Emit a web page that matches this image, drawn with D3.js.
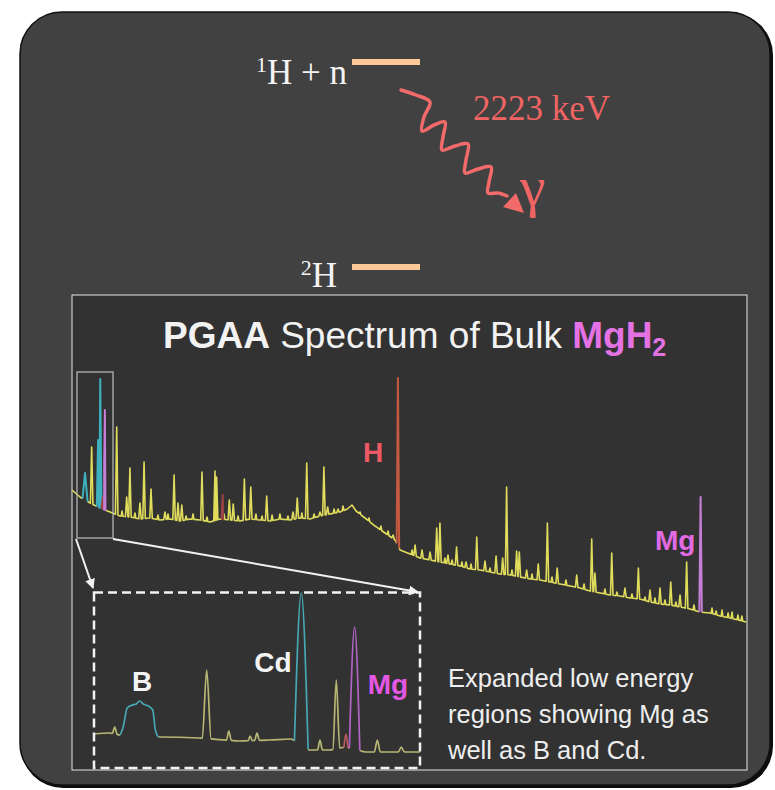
<!DOCTYPE html>
<html>
<head>
<meta charset="utf-8">
<script src="https://cdn.jsdelivr.net/npm/d3@7"></script>
<style>
  body { margin: 0; background: #fff; }
  svg { display: block; }
</style>
</head>
<body>
<div id="chart"></div>
<script>
// ---- bulk spectrum: baseline (energy keV / relative intensity)
var baseE = [400,445,501,557,613,668,724,780,836,892,948,1004,1060,1116,1172,1228,1284,1340,1396,1452,1508,1563,1619,1675,1731,1787,1843,1899,1940,1966,1989,2039,2095,2151,2207,2235,2291,2347,2402,2458,2514,2570,2626,2682,2738,2794,2850,2906,2962,3018,3074,3130,3186,3242,3298,3353,3409,3465,3521,3577,3633,3689,3745,3801,3857,3913,3969,4025,4080,4125,4170];
var baseV = [140,133,127,122,118,114,113,111,112,110,111,109,111,110,108,111,110,109,111,110,109,111,110,112,111,114,116,118,121,125,119,112,104,97,90,80,76,72,70,68,66,64,61,60,58,56,55,53,51,50,48,46,44,42,39,37,35,34,32,31,28,26,25,23,21,18,17,14,12,10,8];

// small wiggles on the baseline
var rippleE = [680,752,881,937,1038,1077,1155,1250,1329,1429,1463,1519,1563,1608,1686,1754,1866,1916,2011,2061,2128,2168,2302,2486,2526,2581,2632,2738,2861,2973,3085,3163,3264,3381,3448,3532,3605,3661,3717,3778,3879,3980,4003,4036,4070,4092,4125,4147];
var rippleV = [119,117,115,116,114,116,113,116,114,116,114,115,116,114,117,116,121,124,118,112,104,99,80,72,70,68,66,62,60,56,53,50,46,41,38,36,33,32,30,28,25,22,19,20,17,18,15,14];

// peaks: energy, top intensity, element colour code
var peakE  = [473,510,546,558,573,580,584,650,706,724,780,803,842,920,971,993,1014,1127,1200,1209,1243,1280,1302,1364,1400,1489,1636,1660,1713,1787,1809,1830,1888,2104,2196,2223,2263,2319,2358,2403,2440,2458,2503,2551,2604,2664,2710,2772,2809,2831,2887,2902,2943,3008,3059,3114,3223,3307,3325,3419,3493,3568,3633,3689,3749,3801,3838,3916];
var peakV  = [157,183,190,251,133,165,220,203,133,162,127,168,141,118,155,127,125,158,159,153,135,130,126,151,143,134,118,132,167,118,163,123,121,103,95,252,78,85,80,78,102,107,75,83,68,93,69,74,72,143,79,78,60,66,107,62,55,91,57,77,42,62,40,42,48,35,68,133];
var peakEl = ["B","Y","Cd","Cd","R","Mg","Mg","Y","Y","Y","Y","Y","Y","Y","Y","Y","Y","Y","Y","Y","R","Y","Y","Y","Y","Y","Y","Y","Y","Y","Y","Y","Y","Y","Y","H","Y","Y","Y","Y","Y","Y","Y","Y","Y","Y","Y","Y","Y","Y","Y","Y","Y","Y","Y","Y","Y","Y","Y","Y","Y","Y","Y","Y","Y","Y","Y","Mg"];

// ---- expanded low-energy region
var inBaseE = [455,463,468,488,507,527,542,553,562,572,580,590,602,617];
var inBaseV = [26,27,25,23,22,19,20,21,10,10,13,8,8,8];
var boronE = [468,469.5,471.5,474,476,477.6,479.5,482,484.2,485.5,487];
var boronV = [25,33,52,55,56,59,56,54,50,30,23];
var inPeakE  = [465.3,511,522,532.6,536,558,567.3,575.4,580.2,584.5,595.8,607.7];
var inPeakV  = [33,90,29,24,27,167,20,80,26,133,20,13];
var inPeakW  = [1.2,2.2,1.2,1,1.2,3.4,1.2,1.7,1,2.6,1.5,1.5];
var inPeakEl = ["Y","Y","Y","Y","Y","Cd","Y","Y","R","Mg","Y","Y"];

var mainColor = {Y:"#e0dc5c", B:"#3fb0bd", Cd:"#3fb0bd", Mg:"#c67fd6", R:"#9c4242", H:"#c65a40"};
var insetColor = {Y:"#b8b674", B:"#46a7b1", Cd:"#46a7b1", Mg:"#b264c6", R:"#c05a5a"};

var svg = d3.select("#chart").append("svg").attr("width", 775).attr("height", 790);

// slide background
svg.append("rect").attr("x", 21).attr("y", 13).attr("width", 752).attr("height", 775).attr("rx", 42)
  .attr("fill", "#0d0d0d");
svg.append("rect").attr("x", 20).attr("y", 12).attr("width", 750).attr("height", 773).attr("rx", 42)
  .attr("fill", "#414141").attr("stroke", "#111").attr("stroke-width", 1.5);

var serif = "'Liberation Serif', 'Times New Roman', serif";
var sans = "'Liberation Sans', Arial, Helvetica, sans-serif";

// ---- energy level scheme
var levels = [{sup: "1", rest: "H + n", y: 62, base: 84}, {sup: "2", rest: "H", y: 267, base: 287}];
levels.forEach(function (d) {
  svg.append("rect").attr("x", 352).attr("y", d.y - 3).attr("width", 68).attr("height", 6).attr("fill", "#fcc898");
  var t = svg.append("text").attr("x", d.sup == "1" ? 347 : 337).attr("y", d.base)
    .attr("text-anchor", "end").attr("font-family", serif).attr("font-size", 35).attr("fill", "#f4f4f4");
  t.append("tspan").attr("font-size", 22).attr("dy", -12).text(d.sup);
  t.append("tspan").attr("dy", 12).text(d.rest);
});

svg.append("text").attr("x", 473).attr("y", 120).attr("font-family", serif).attr("font-size", 35)
  .attr("fill", "#f06464").text("2223 keV");
svg.append("text").attr("x", 520).attr("y", 206).attr("font-family", serif).attr("font-size", 58)
  .attr("fill", "#f06464").text("γ");

// wavy photon
var wave = [[401,90],[416,95],[430,102],[424,117],[422,131],[434,125],[445,122],[443,137],[442,150],[455,146],[468,144],[466,160],[465,173],[478,169],[491,167],[489,182],[488,193],[498,193],[507,196]];
svg.append("path").attr("d", d3.line().curve(d3.curveCatmullRom.alpha(0.5))(wave))
  .attr("fill", "none").attr("stroke", "#f26a6a").attr("stroke-width", 3.5).attr("stroke-linecap", "round");
svg.append("path").attr("d", "M524,213 L503,207 L516,193 Z").attr("fill", "#f26a6a");

// ---- spectrum panel
svg.append("rect").attr("x", 72).attr("y", 295).attr("width", 675).attr("height", 475)
  .attr("fill", "#323232").attr("stroke", "#e6e6e6").attr("stroke-width", 1);

var title = svg.append("text").attr("x", 163).attr("y", 348).attr("font-family", sans).attr("font-size", 37).attr("fill", "#f2f2f2");
title.append("tspan").attr("font-weight", "bold").text("PGAA");
title.append("tspan").text(" Spectrum of Bulk ");
title.append("tspan").attr("font-weight", "bold").attr("fill", "#e472e4").text("MgH");
title.append("tspan").attr("font-weight", "bold").attr("fill", "#e472e4").attr("font-size", 25).attr("dy", 8).text("2");

// split a spectrum into coloured runs
function buildRuns(bE, bV, peaks) {
  var base = d3.scaleLinear().domain(bE).range(bV);
  var verts = [];
  bE.forEach(function (e, i) {
    var inside = peaks.some(function (p) { return e > p.lo && e < p.hi; });
    if (!inside) verts.push([e, bV[i]]);
  });
  peaks.forEach(function (p) {
    if (p.pts) p.pts.forEach(function (q) { verts.push(q); });
    else verts.push([p.lo, base(p.lo)], [p.e, p.v], [p.hi, base(p.hi)]);
  });
  verts.sort(function (a, b) { return a[0] - b[0]; });
  var runs = [], cur = null;
  for (var i = 0; i < verts.length - 1; i++) {
    var m = (verts[i][0] + verts[i + 1][0]) / 2;
    var hit = peaks.filter(function (p) { return p.c != "Y" && m > p.lo && m < p.hi; });
    hit.sort(function (a, b) { return b.v - a.v; });
    var c = hit.length ? hit[0].c : "Y";
    if (!cur || cur.c != c) { cur = {c: c, pts: [verts[i]]}; runs.push(cur); }
    cur.pts.push(verts[i + 1]);
  }
  // yellow first so coloured lines sit on top
  runs.sort(function (a, b) { return (a.c == "Y" ? 0 : 1) - (b.c == "Y" ? 0 : 1); });
  return runs;
}

// main spectrum
var x = d3.scaleLinear().domain([400, 4170]).range([72, 746]);
var y = d3.scaleLinear().domain([0, 260]).range([630, 370]);

var mainPeaks = peakE.map(function (e, i) {
  var w = peakEl[i] == "B" ? 14 : 7;
  return {e: e, v: peakV[i], c: peakEl[i], lo: e - w, hi: e + w};
});
rippleE.forEach(function (e, i) {
  mainPeaks.push({e: e, v: rippleV[i], c: "Y", lo: e - 5, hi: e + 5});
});
var mainLine = d3.line().x(function (d) { return x(d[0]); }).y(function (d) { return y(d[1]); });
svg.append("g").selectAll("path").data(buildRuns(baseE, baseV, mainPeaks)).join("path")
  .attr("d", function (d) { return mainLine(d.pts); })
  .attr("fill", "none").attr("stroke", function (d) { return mainColor[d.c]; })
  .attr("stroke-width", function (d) { return d.c == "Y" ? 1.6 : 2; })
  .attr("stroke-linejoin", "round");

svg.append("text").attr("x", 373).attr("y", 462).attr("text-anchor", "middle").attr("font-family", sans)
  .attr("font-weight", "bold").attr("font-size", 28).attr("fill", "#ee5a64").text("H");
svg.append("text").attr("x", 655).attr("y", 550).attr("font-family", sans)
  .attr("font-weight", "bold").attr("font-size", 28).attr("fill", "#e36ae3").text("Mg");

// zoom box and connectors
svg.append("rect").attr("x", 77).attr("y", 372).attr("width", 36).attr("height", 166)
  .attr("fill", "none").attr("stroke", "#b4b4b4").attr("stroke-width", 1.3);
svg.append("defs").append("marker").attr("id", "arr").attr("viewBox", "0 0 10 10").attr("refX", 9).attr("refY", 5)
  .attr("markerWidth", 5).attr("markerHeight", 5).attr("orient", "auto")
  .append("path").attr("d", "M0,0 L10,5 L0,10 Z").attr("fill", "#f2f2f2");
[[76, 539, 93, 588], [113, 539, 418, 592]].forEach(function (l) {
  svg.append("line").attr("x1", l[0]).attr("y1", l[1]).attr("x2", l[2]).attr("y2", l[3])
    .attr("stroke", "#f2f2f2").attr("stroke-width", 2).attr("marker-end", "url(#arr)");
});

// expanded region
var xi = d3.scaleLinear().domain([455, 617]).range([94, 420]);
var yi = d3.scaleLinear().domain([0, 170]).range([760, 590]);
var inPeaks = inPeakE.map(function (e, i) {
  return {e: e, v: inPeakV[i], c: inPeakEl[i], lo: e - inPeakW[i], hi: e + inPeakW[i]};
});
inPeaks.push({e: 477.6, v: d3.max(boronV), c: "B", lo: boronE[0], hi: boronE[boronE.length - 1],
  pts: boronE.map(function (e, i) { return [e, boronV[i]]; })});
var inLine = d3.line().curve(d3.curveMonotoneX).x(function (d) { return xi(d[0]); }).y(function (d) { return yi(d[1]); });
svg.append("g").selectAll("path").data(buildRuns(inBaseE, inBaseV, inPeaks)).join("path")
  .attr("d", function (d) { return inLine(d.pts); })
  .attr("fill", "none").attr("stroke", function (d) { return insetColor[d.c]; })
  .attr("stroke-width", 1.7).attr("stroke-linejoin", "round");

svg.append("rect").attr("x", 94).attr("y", 592.5).attr("width", 326).attr("height", 175.5)
  .attr("fill", "none").attr("stroke", "#f2f2f2").attr("stroke-width", 2.5).attr("stroke-dasharray", "9,5");

var inLabels = [{t: "B", x: 142, y: 691, c: "#f4f4f4"}, {t: "Cd", x: 273, y: 672, c: "#f4f4f4"}, {t: "Mg", x: 388, y: 694, c: "#e458e4"}];
svg.selectAll(".inlab").data(inLabels).join("text").attr("class", "inlab")
  .attr("x", function (d) { return d.x; }).attr("y", function (d) { return d.y; })
  .attr("text-anchor", "middle").attr("font-family", sans).attr("font-weight", "bold").attr("font-size", 28)
  .attr("fill", function (d) { return d.c; }).text(function (d) { return d.t; });

var note = ["Expanded low energy", "regions showing Mg as", "well as B and Cd."];
svg.selectAll(".note").data(note).join("text").attr("class", "note")
  .attr("x", 448).attr("y", function (d, i) { return 687 + i * 36; })
  .attr("font-family", sans).attr("font-size", 25.5).attr("fill", "#eeeeee").text(function (d) { return d; });
</script>
</body>
</html>
